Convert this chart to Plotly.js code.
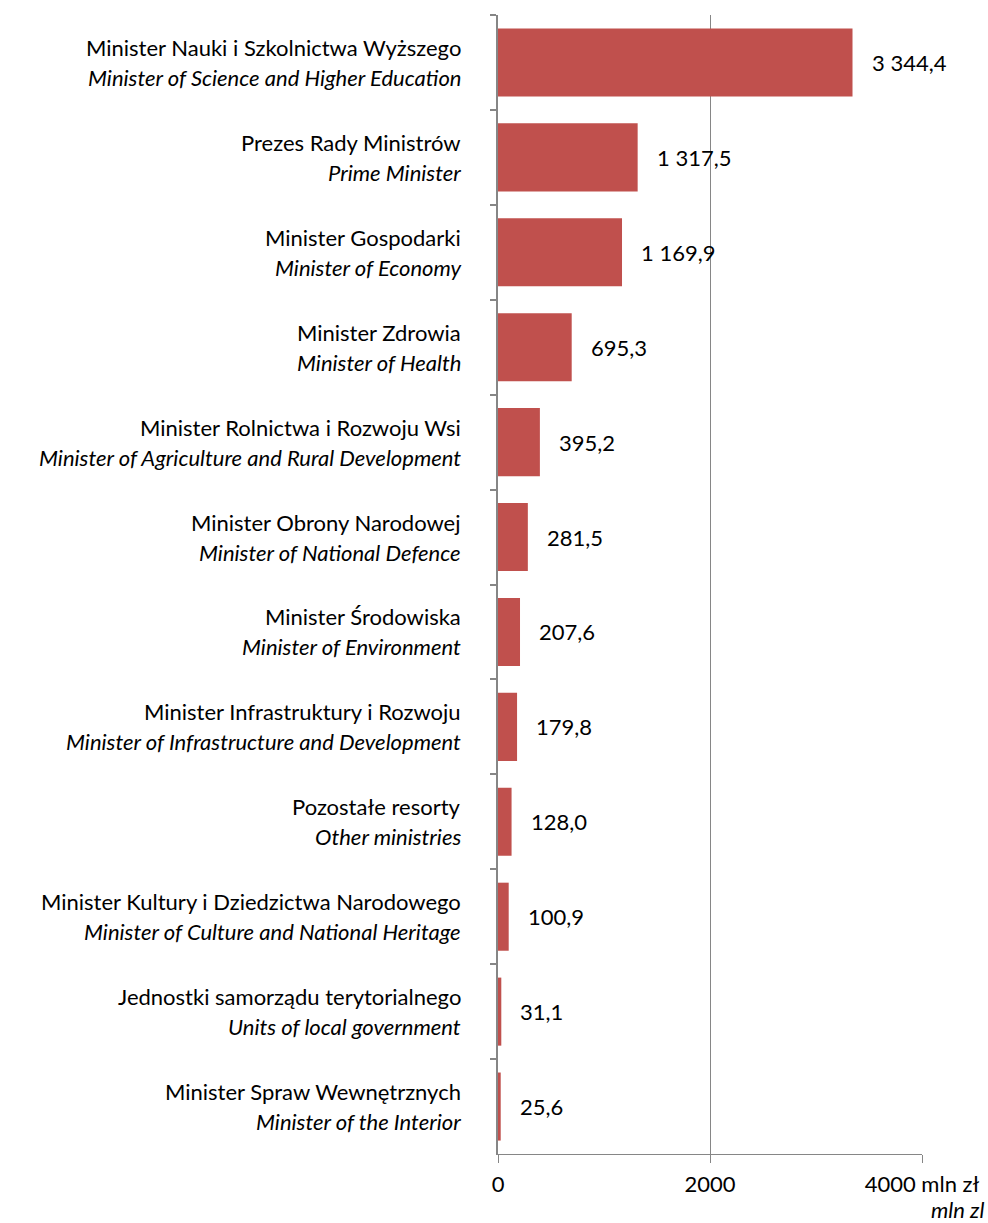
<!DOCTYPE html>
<html><head><meta charset="utf-8">
<script src="https://cdn.plot.ly/plotly-3.0.1.min.js"></script>
<style>body{margin:0;background:#fff}#c{width:988px;height:1223px}</style>
</head><body><div id="c"></div>
<script>
const namesPl = [
  "Minister Nauki i Szkolnictwa Wyższego",
  "Prezes Rady Ministrów",
  "Minister Gospodarki",
  "Minister Zdrowia",
  "Minister Rolnictwa i Rozwoju Wsi",
  "Minister Obrony Narodowej",
  "Minister Środowiska",
  "Minister Infrastruktury i Rozwoju",
  "Pozostałe resorty",
  "Minister Kultury i Dziedzictwa Narodowego",
  "Jednostki samorządu terytorialnego",
  "Minister Spraw Wewnętrznych"
];
const namesEn = [
  "Minister of Science and Higher Education",
  "Prime Minister",
  "Minister of Economy",
  "Minister of Health",
  "Minister of Agriculture and Rural Development",
  "Minister of National Defence",
  "Minister of Environment",
  "Minister of Infrastructure and Development",
  "Other ministries",
  "Minister of Culture and National Heritage",
  "Units of local government",
  "Minister of the Interior"
];
const values = [3344.4, 1317.5, 1169.9, 695.3, 395.2, 281.5, 207.6, 179.8, 128.0, 100.9, 31.1, 25.6];
const valueLabels = ["3 344,4","1 317,5","1 169,9","695,3","395,2","281,5","207,6","179,8","128,0","100,9","31,1","25,6"];
const xTickVals = [0, 2000, 4000];
const xTickText = ["0", "2000", "4000 mln zł"];
const unitEn = "mln zl";

const FONT = "Lato, 'Open Sans', sans-serif";
const FS = 22;
const annotations = [];
namesPl.forEach((n, i) => {
  annotations.push({x: 0, y: n, xref: 'x', yref: 'y', text: n, showarrow: false,
    xanchor: 'right', yanchor: 'middle', xshift: -35, yshift: 15, font: {family: FONT, size: FS, color: '#000'}});
  annotations.push({x: 0, y: n, xref: 'x', yref: 'y', text: '<i>' + namesEn[i] + '</i>', showarrow: false,
    xanchor: 'right', yanchor: 'middle', xshift: -35, yshift: -15, font: {family: FONT, size: FS, color: '#000'}});
  annotations.push({x: values[i], y: n, xref: 'x', yref: 'y', text: valueLabels[i], showarrow: false,
    xanchor: 'left', yanchor: 'middle', xshift: 17, yshift: 0, font: {family: FONT, size: FS, color: '#000'}});
});
annotations.push({x: 1, y: 0, xref: 'paper', yref: 'paper', text: '<i>' + unitEn + '</i>', showarrow: false,
  xanchor: 'right', yanchor: 'bottom', xshift: 63, yshift: -70, borderpad: 0, font: {family: FONT, size: FS, color: '#000'}});

Plotly.newPlot('c', [{
  type: 'bar', orientation: 'h', x: values, y: namesPl,
  marker: {color: '#C0504D'}, hoverinfo: 'none'
}], {
  width: 988, height: 1223,
  margin: {l: 498, r: 66, t: 15, b: 69},
  paper_bgcolor: '#fff', plot_bgcolor: '#fff',
  bargap: 0.283,
  showlegend: false,
  font: {family: FONT, size: FS, color: '#000'},
  xaxis: {range: [0, 4000], tickvals: xTickVals, ticktext: xTickText,
    showgrid: true, gridcolor: '#868686', gridwidth: 1,
    showline: true, linecolor: '#868686', linewidth: 1,
    ticks: 'outside', ticklen: 8, tickcolor: '#868686', zeroline: false,
    ticklabelstandoff: 3,
    tickfont: {family: FONT, size: FS, color: '#000'}, fixedrange: true},
  yaxis: {type: 'category', autorange: 'reversed', showticklabels: false,
    showline: true, linecolor: '#868686', linewidth: 2,
    ticks: 'outside', tickson: 'boundaries', ticklen: 6, tickcolor: '#868686', tickwidth: 2,
    showgrid: false, zeroline: false, fixedrange: true},
  annotations: annotations
}, {staticPlot: true});
</script></body></html>
